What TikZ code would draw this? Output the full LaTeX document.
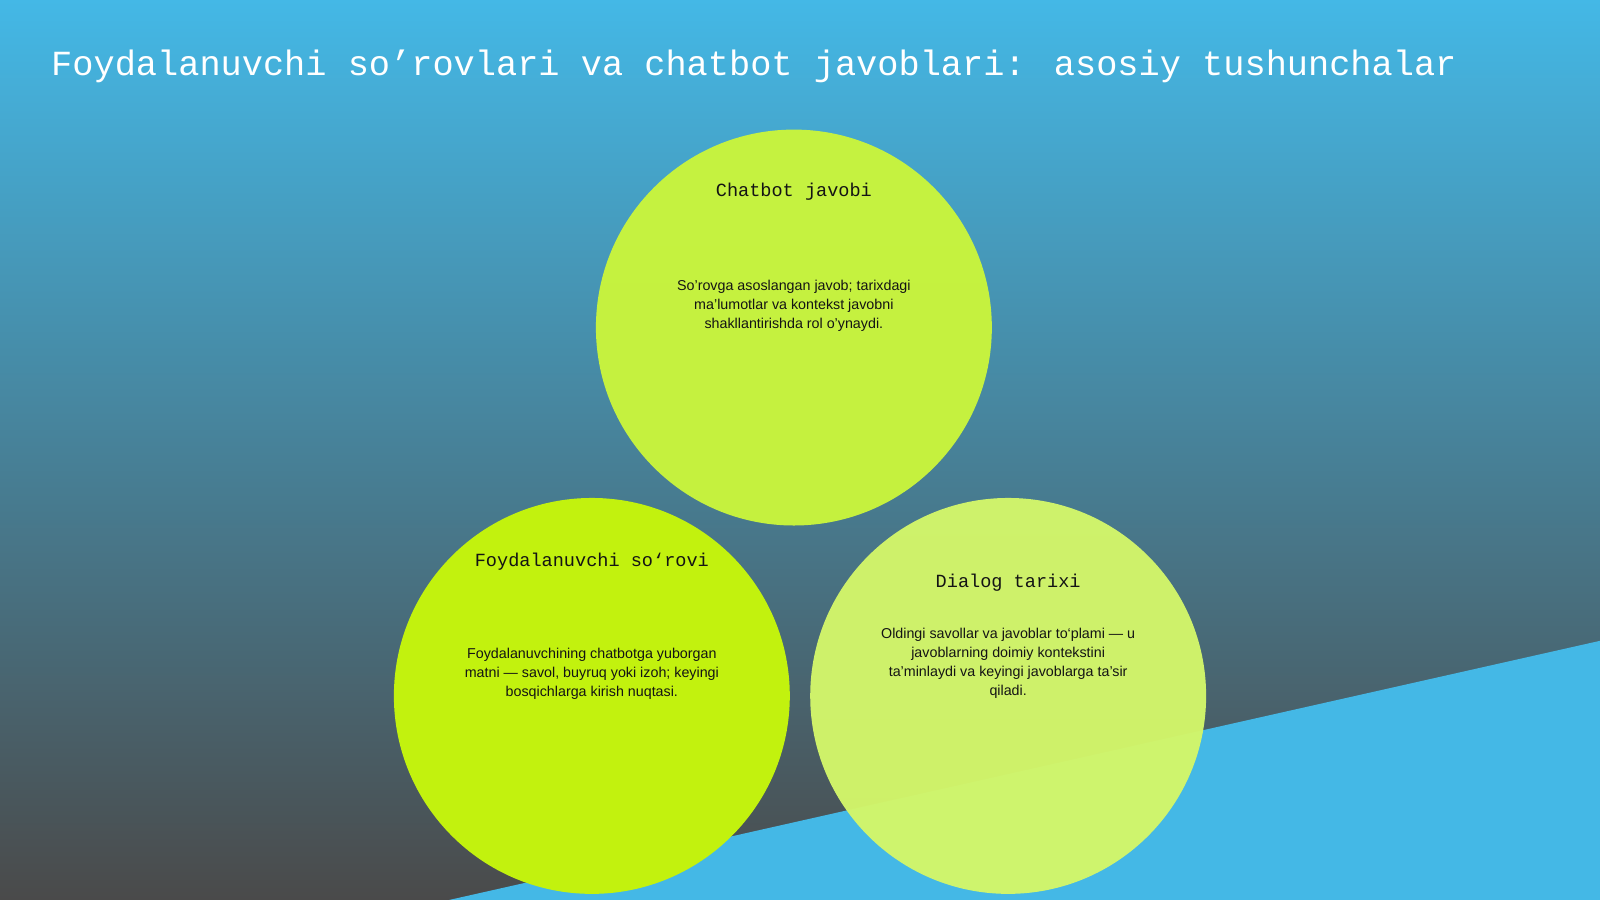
\documentclass[tikz,border=0pt]{standalone}
\usepackage{fontspec}
\setmainfont{Liberation Sans}
\newfontfamily\monofont{Liberation Mono}
\definecolor{skyblue}{RGB}{68,184,230}
\definecolor{darkgray}{RGB}{74,74,74}
\definecolor{limeA}{RGB}{194,242,14}
\definecolor{limeB}{RGB}{202,245,60}
\definecolor{limeC}{RGB}{211,246,106}
\definecolor{inktext}{RGB}{20,20,20}
\tikzset{
	bubble/.style={circle,minimum size=388pt,inner sep=0pt},
	head/.style={font=\monofont\fontsize{18.2}{22}\selectfont,text=inktext},
	body/.style={font=\fontsize{14}{18.5}\selectfont,text=inktext,align=center,anchor=north}
}
\begin{document}
\begin{tikzpicture}[x=1pt,y=-1pt]
		\useasboundingbox (0,0) rectangle (1568,882);
		\shade[top color=skyblue,bottom color=darkgray] (0,0) rectangle (1568,882);
		\fill[skyblue] (440,882) -- (1568,628) -- (1568,882) -- cycle;
		% title
		\node[anchor=base west,inner sep=0pt,text=white,font=\monofont\fontsize{34.6}{40}\selectfont] (title) at (50,74) {Foydalanuvchi so’rovlari va chatbot javoblari: asosiy tushunchalar};
		% circles
		\node[bubble,fill=limeB,opacity=0.97] (reply) at (778,321) {};
		\node[bubble,fill=limeA] (query) at (580,682) {};
		\node[bubble,fill=limeC,opacity=0.97] (history) at (988,682) {};
		% texts
		\node[head] (replyhead) at (778,188) {Chatbot javobi};
		\node[body] (replytext) at (778,271) {So’rovga asoslangan javob; tarixdagi\\ma’lumotlar va kontekst javobni\\shakllantirishda rol o’ynaydi.};
		\node[head] (queryhead) at (580,550) {Foydalanuvchi so‘rovi};
		\node[body] (querytext) at (580,632) {Foydalanuvchining chatbotga yuborgan\\matni — savol, buyruq yoki izoh; keyingi\\bosqichlarga kirish nuqtasi.};
		\node[head] (historyhead) at (988,571) {Dialog tarixi};
		\node[body] (historytext) at (988,612) {Oldingi savollar va javoblar to‘plami — u\\javoblarning doimiy kontekstini\\ta’minlaydi va keyingi javoblarga ta’sir\\qiladi.};
	\end{tikzpicture}
\end{document}
